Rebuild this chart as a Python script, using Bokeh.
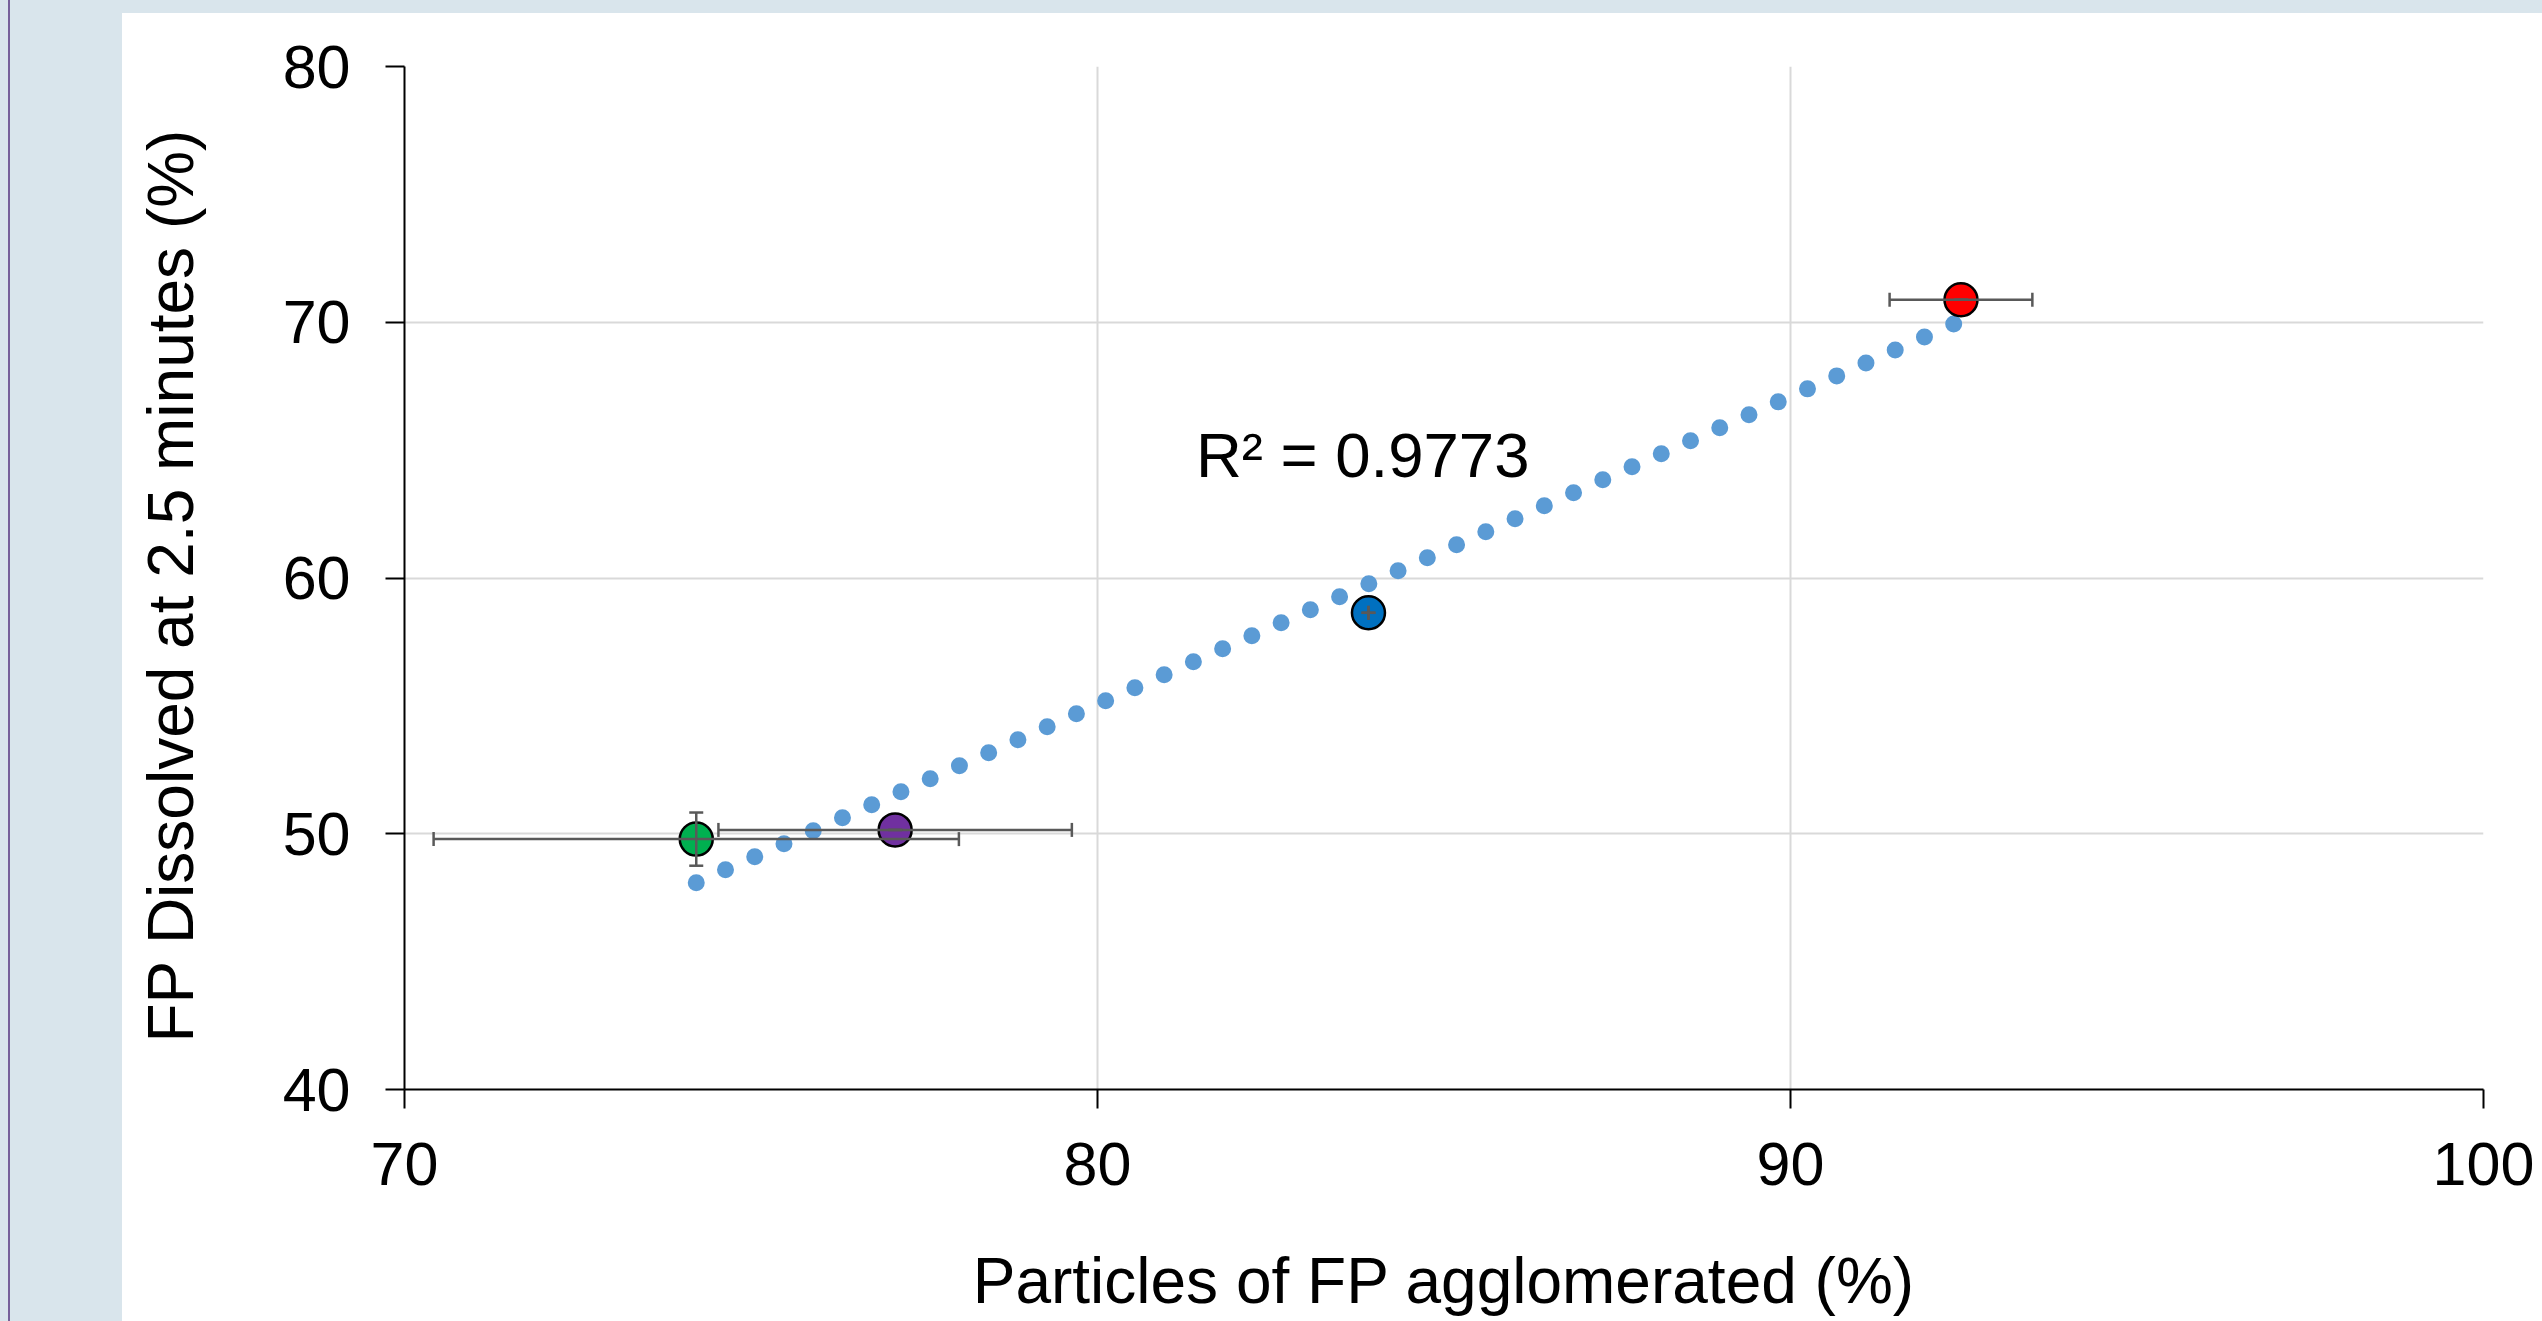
import numpy as np
from bokeh.plotting import figure
from bokeh.models import ColumnDataSource, Whisker, TeeHead, Label, Range1d, FixedTicker, Title
from bokeh.embed import file_html
from bokeh.resources import INLINE

# ---- data ----
x_vals = [74.21, 77.08, 83.91, 92.46]
y_vals = [49.79, 50.15, 58.64, 70.88]
x_err = [3.79, 2.55, 0.0, 1.03]
y_err = [1.04, 0.0, 0.0, 0.0]
colors = ["#00B050", "#7030A0", "#0070C0", "#FF0000"]
x_ticks = [70, 80, 90, 100]
y_ticks = [40, 50, 60, 70, 80]
r2_text = "R² = 0.9773"
x_title = "Particles of FP agglomerated (%)"
y_title = "FP Dissolved at 2.5 minutes (%)"

FONT = "Liberation Sans"
W, H = 2542, 1321

p = figure(width=W, height=H, output_backend="svg", toolbar_location=None,
           x_range=Range1d(70, 100), y_range=Range1d(40, 80),
           min_border_left=404, min_border_right=W - 2483, min_border_top=66,
           min_border_bottom=H - 1089)
p.background_fill_color = "white"
p.border_fill_color = None
p.outline_line_color = None
# slide background: light blue band on the left and top, thin purple rule
p.styles = {
    "background": (
        "linear-gradient(to right, transparent 8px, #76609A 8px, #76609A 10px, transparent 10px), "
        "linear-gradient(to right, #D9E5EC 122px, transparent 122px), "
        "linear-gradient(to bottom, #D9E5EC 13px, #FFFFFF 13px)"
    )
}

# axes
for ax in (p.xaxis[0], p.yaxis[0]):
    ax.axis_line_color = "black"
    ax.axis_line_width = 2
    ax.major_tick_line_color = "black"
    ax.major_tick_line_width = 2
    ax.major_tick_out = 19
    ax.major_tick_in = 0
    ax.minor_tick_line_color = None
    ax.major_label_text_font = FONT
    ax.major_label_text_font_size = "61px"
    ax.major_label_text_color = "black"

p.xaxis.ticker = FixedTicker(ticks=x_ticks)
p.yaxis.ticker = FixedTicker(ticks=y_ticks)
p.xaxis.major_label_standoff = 34
p.yaxis.major_label_standoff = 35

# x title as the axis label
p.xaxis.axis_label = x_title
p.xaxis.axis_label_standoff = 57
p.xaxis.axis_label_text_font = FONT
p.xaxis.axis_label_text_font_size = "64px"
p.xaxis.axis_label_text_font_style = "normal"
p.xaxis.axis_label_text_color = "black"

p.grid.grid_line_color = "#D9D9D9"
p.grid.grid_line_width = 2
p.xgrid.ticker = FixedTicker(ticks=x_ticks)
p.ygrid.ticker = FixedTicker(ticks=y_ticks)

# y title, slightly below the frame centre as in the original
p.add_layout(Title(text=y_title, align="left", offset=47, standoff=146,
                   text_font=FONT, text_font_size="64px", text_font_style="normal",
                   text_color="black"), "left")

# linear trendline from the data
xa = np.array(x_vals)
ya = np.array(y_vals)
slope, intercept = np.polyfit(xa, ya, 1)
tx = [xa.min(), xa.max()]
ty = [slope * t + intercept for t in tx]
p.line(tx, ty, line_color="#5B9BD5", line_width=17, line_dash="0 32", line_cap="round")

# error bars
src = ColumnDataSource(dict(
    x=x_vals, y=y_vals, c=colors,
    xl=[a - e for a, e in zip(x_vals, x_err)], xu=[a + e for a, e in zip(x_vals, x_err)],
    yl=[a - e for a, e in zip(y_vals, y_err)], yu=[a + e for a, e in zip(y_vals, y_err)],
))
ecol = "#595959"
wx = Whisker(base="y", lower="xl", upper="xu", dimension="width", source=src,
             line_color=ecol, line_width=2.5,
             lower_head=TeeHead(size=14, line_color=ecol, line_width=2.5),
             upper_head=TeeHead(size=14, line_color=ecol, line_width=2.5))
wy = Whisker(base="x", lower="yl", upper="yu", dimension="height", source=src,
             line_color=ecol, line_width=2.5,
             lower_head=TeeHead(size=14, line_color=ecol, line_width=2.5),
             upper_head=TeeHead(size=14, line_color=ecol, line_width=2.5))
wx.level = "glyph"
wy.level = "glyph"
p.add_layout(wx)
p.add_layout(wy)

p.scatter("x", "y", source=src, size=33, fill_color="c", line_color="black", line_width=2.5)

p.add_layout(Label(x=81.42, y=64.8, text=r2_text, text_font=FONT, text_font_size="63.5px",
                   text_color="black", text_baseline="middle", text_align="left"))

open("out.html", "w").write(file_html(p, INLINE))
